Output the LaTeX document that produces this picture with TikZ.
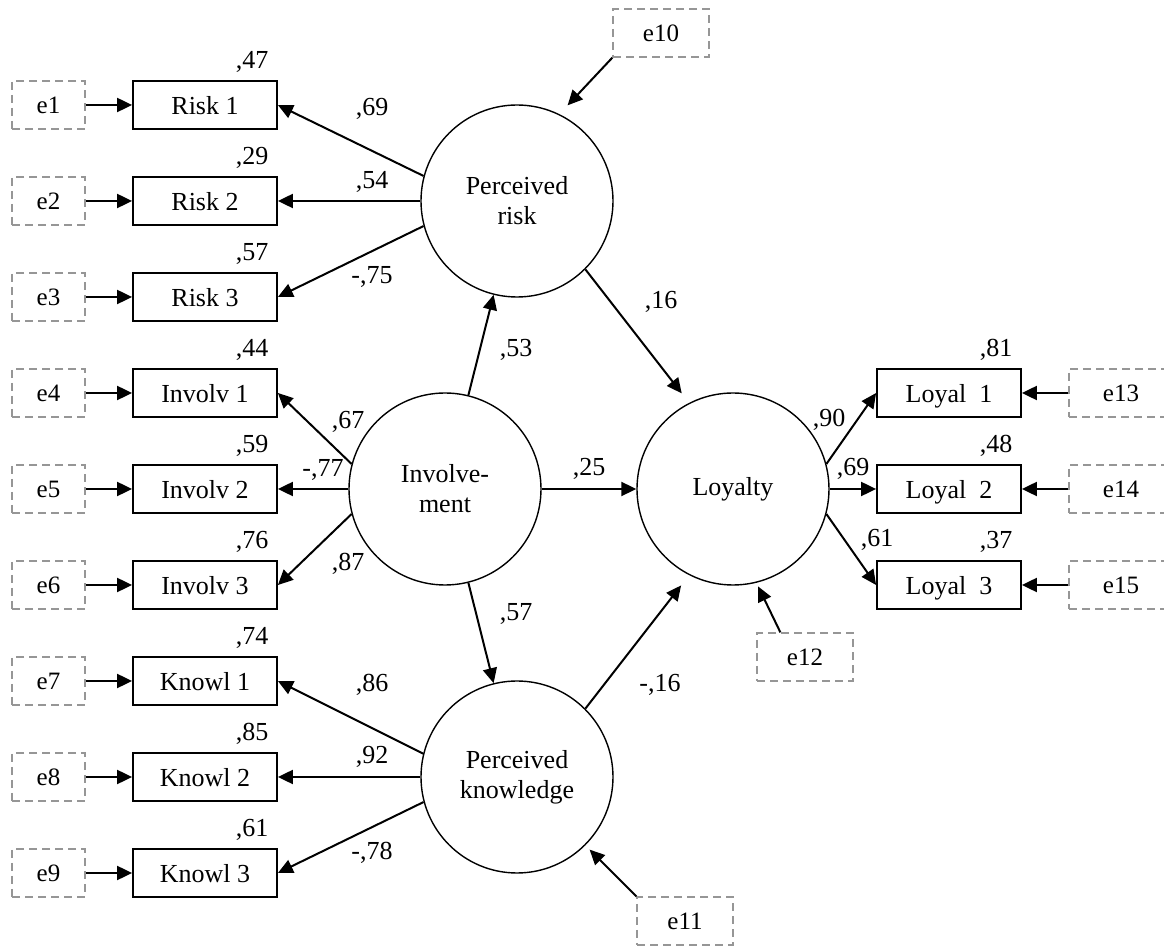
\documentclass[tikz,border=0pt]{standalone}
\usepackage{fontspec}
\setmainfont{Liberation Serif}
\usetikzlibrary{arrows.meta}
\definecolor{errgray}{RGB}{150,150,150}
\begin{document}
\begin{tikzpicture}[x=0.5pt,y=-0.5pt,
  every node/.style={font=\fontsize{13}{15}\selectfont},
  obs/.style={draw, line width=0.9pt, minimum width=72pt, minimum height=24pt, inner sep=0pt, text height=9.6pt, text depth=0pt},
  err/.style={draw=errgray, line width=0.6pt, dash pattern=on 4pt off 2.5pt, minimum width=48pt, minimum height=24pt, inner sep=0pt, text height=9pt, text depth=0pt, font=\fontsize{12.5}{15}\selectfont},
  errs/.style={err, minimum width=36.5pt},
  errr/.style={err, minimum width=52pt},
  lat/.style={circle, draw, line width=0.7pt, minimum size=96pt, inner sep=0pt, align=center},
  arr/.style={-{Triangle[length=7.5pt,width=7pt]}, line width=1pt},
  lbl/.style={inner sep=0pt, text height=8.6pt, text depth=0pt, anchor=center}
]
\useasboundingbox (0,0) rectangle (1164,946);
\clip (0,0) rectangle (1164,946);

% left error terms and indicators
\node[errs] (e1) at (48.5,105) {e1};
\node[errs] (e2) at (48.5,201) {e2};
\node[errs] (e3) at (48.5,297) {e3};
\node[errs] (e4) at (48.5,393) {e4};
\node[errs] (e5) at (48.5,489) {e5};
\node[errs] (e6) at (48.5,585) {e6};
\node[errs] (e7) at (48.5,681) {e7};
\node[errs] (e8) at (48.5,777) {e8};
\node[errs] (e9) at (48.5,873) {e9};

\node[obs] (r1) at (205,105) {Risk 1};
\node[obs] (r2) at (205,201) {Risk 2};
\node[obs] (r3) at (205,297) {Risk 3};
\node[obs] (i1) at (205,393) {Involv 1};
\node[obs] (i2) at (205,489) {Involv 2};
\node[obs] (i3) at (205,585) {Involv 3};
\node[obs] (k1) at (205,681) {Knowl 1};
\node[obs] (k2) at (205,777) {Knowl 2};
\node[obs] (k3) at (205,873) {Knowl 3};

% latent variables
\node[lat] (PR) at (517,201) {Perceived\\risk};
\node[lat] (INV) at (445,489) {Involve-\\ment};
\node[lat] (LOY) at (733,489) {Loyalty};
\node[lat] (PK) at (517,777) {Perceived\\knowledge};

% right indicators
\node[obs] (l1) at (949,393) {Loyal\ \ 1};
\node[obs] (l2) at (949,489) {Loyal\ \ 2};
\node[obs] (l3) at (949,585) {Loyal\ \ 3};
\node[errr] (e13) at (1121,393) {e13\hspace{10pt}};
\node[errr] (e14) at (1121,489) {e14\hspace{10pt}};
\node[errr] (e15) at (1121,585) {e15\hspace{10pt}};

% disturbances
\node[err] (e10) at (661,33) {e10};
\node[err] (e11) at (685,921) {e11};
\node[err] (e12) at (805,657) {e12};

% error arrows
\foreach \e/\b in {e1/r1,e2/r2,e3/r3,e4/i1,e5/i2,e6/i3,e7/k1,e8/k2,e9/k3,e13/l1,e14/l2,e15/l3}
  \draw[arr] (\e) -- (\b);

% loadings
\draw[arr] (PR.165) -- (r1.east);
\draw[arr] (PR) -- (r2);
\draw[arr] (PR.195) -- (r3.east);
\draw[arr] (INV.165) -- (i1.east);
\draw[arr] (INV) -- (i2);
\draw[arr] (INV.195) -- (i3.east);
\draw[arr] (PK.166) -- (k1.east);
\draw[arr] (PK) -- (k2);
\draw[arr] (PK.195) -- (k3.east);
\draw[arr] (LOY.15) -- (l1.west);
\draw[arr] (LOY) -- (l2);
\draw[arr] (LOY.345) -- (l3.west);

% structural paths
\draw[arr] (INV.76) -- (PR.256);
\draw[arr] (INV.284) -- (PK.104);
\draw[arr] (INV) -- (LOY);
\draw[arr, shorten >=6pt] (PR.315) -- (LOY.117);
\draw[arr, shorten >=6.5pt] (PK.45) -- (LOY.243);

% disturbance arrows
\draw[arr, shorten >=6pt] (e10.south west) -- (PR.64);
\draw[arr, shorten >=3pt] (e11.north west) -- (PK.315);
\draw[arr, shorten >=2pt] ([xshift=12pt]e12.north west) -- (LOY.284);

% R-squared labels
\node[lbl] (q1) at (252,60) {,47};
\node[lbl] (q2) at (252,156) {,29};
\node[lbl] (q3) at (252,252) {,57};
\node[lbl] (q4) at (252,348) {,44};
\node[lbl] (q5) at (252,444) {,59};
\node[lbl] (q6) at (252,540) {,76};
\node[lbl] (q7) at (252,636) {,74};
\node[lbl] (q8) at (252,732) {,85};
\node[lbl] (q9) at (252,828) {,61};
\node[lbl] (q13) at (996,348) {,81};
\node[lbl] (q14) at (996,444) {,48};
\node[lbl] (q15) at (996,540) {,37};

% path coefficient labels
\node[lbl] (c1) at (372,107) {,69};
\node[lbl] (c2) at (372,180) {,54};
\node[lbl] (c3) at (372,275) {-,75};
\node[lbl] (c4) at (348,420) {,67};
\node[lbl] (c5) at (323,468) {-,77};
\node[lbl] (c6) at (348,562) {,87};
\node[lbl] (c7) at (372,683) {,86};
\node[lbl] (c8) at (372,755) {,92};
\node[lbl] (c9) at (372,851) {-,78};
\node[lbl] (c10) at (829,418) {,90};
\node[lbl] (c11) at (853,467) {,69};
\node[lbl] (c12) at (877,538) {,61};
\node[lbl] (c13) at (516,348) {,53};
\node[lbl] (c14) at (661,300) {,16};
\node[lbl] (c15) at (589,467) {,25};
\node[lbl] (c16) at (516,612) {,57};
\node[lbl] (c17) at (660,683) {-,16};
\end{tikzpicture}
\end{document}
